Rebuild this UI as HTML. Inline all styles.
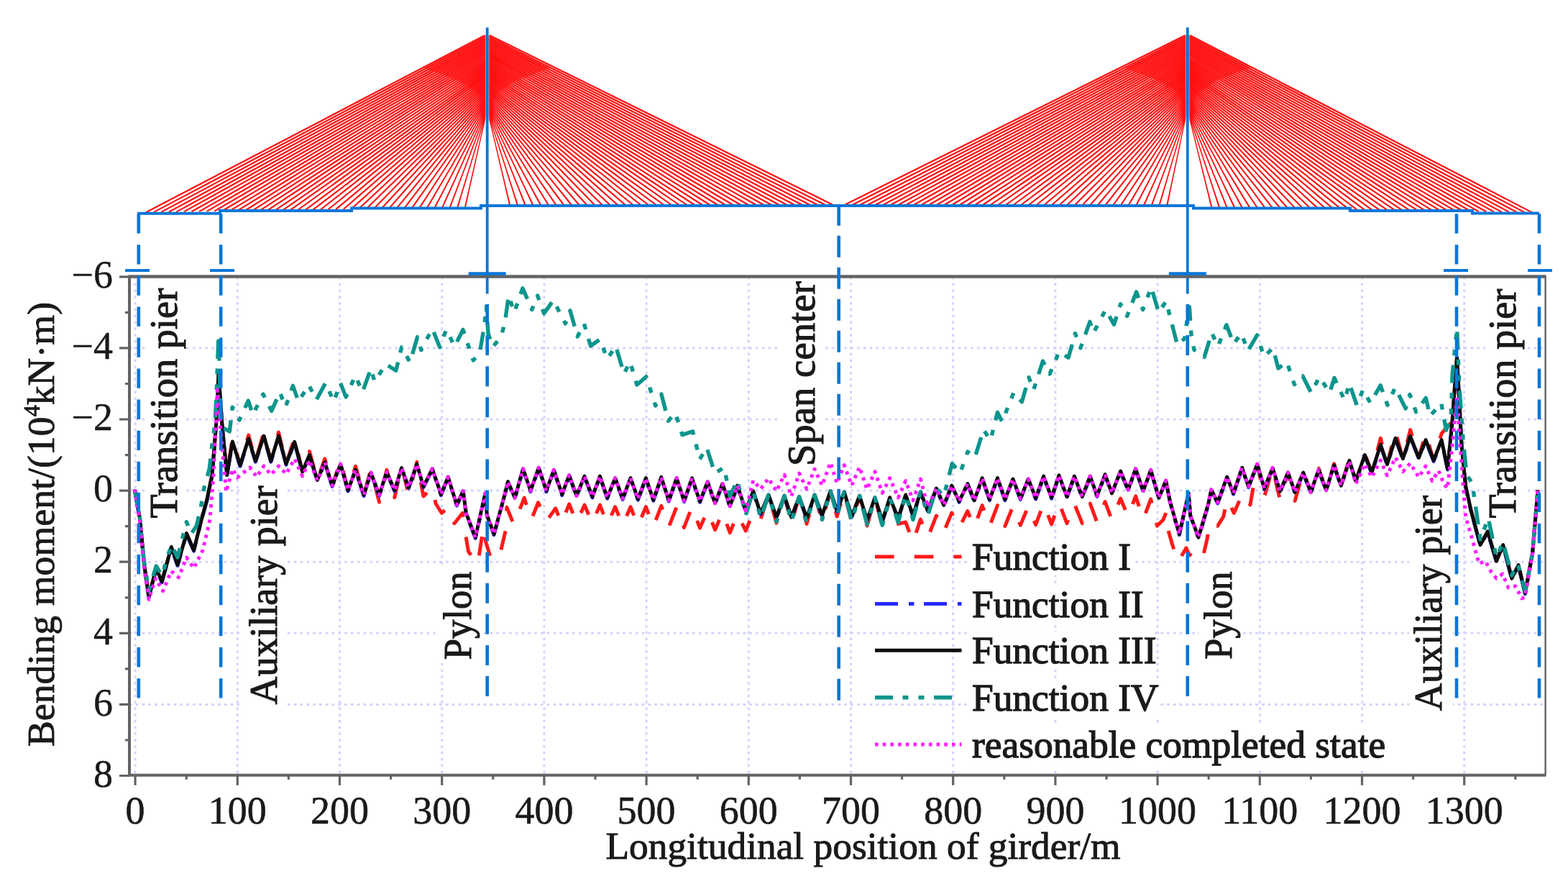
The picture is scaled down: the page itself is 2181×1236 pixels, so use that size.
<!DOCTYPE html><html><head><meta charset="utf-8"><title>Bending moment</title><style>html,body{margin:0;padding:0;background:#fff;}svg{display:block;filter:blur(0.7px);}text{font-family:"Liberation Serif","Times New Roman",serif;fill:#1a1a1a;stroke:#1a1a1a;stroke-width:0.85px;}</style></head><body>
<svg xmlns="http://www.w3.org/2000/svg" width="2181" height="1236" viewBox="0 0 2181 1236">
<rect x="0" y="0" width="2181" height="1236" fill="#fff"/>
<path d="M203.49 296.21L282.13 255.21L360.75 214.18L439.38 173.15L518.00 132.11L596.62 91.08L675.24 50.04L674.16 47.96L595.55 89.02L516.93 130.07L438.32 171.13L359.71 212.19L281.11 253.26L202.51 294.35ZM214.06 296.03L290.94 255.52L367.80 214.98L444.67 174.44L521.53 133.89L598.39 93.35L675.25 52.80L674.15 50.73L597.30 91.29L520.45 131.86L443.61 172.43L366.76 213.00L289.91 253.58L213.08 294.18ZM224.64 295.86L299.75 255.83L374.86 215.78L449.96 175.73L525.05 135.67L600.15 95.61L675.25 55.56L674.15 53.49L599.06 93.57L523.97 133.65L448.89 173.73L373.80 213.81L298.72 253.89L223.65 294.00ZM235.21 295.68L308.57 256.14L381.91 216.58L455.25 177.02L528.58 137.45L601.92 97.88L675.25 58.31L674.15 56.26L600.82 95.84L527.49 135.43L454.17 175.02L380.85 214.61L307.52 254.21L234.22 293.83ZM245.79 295.50L317.38 256.45L388.96 217.38L460.54 178.31L532.11 139.23L603.69 100.15L675.26 61.07L674.14 59.02L602.58 98.12L531.01 137.22L459.45 176.32L387.89 215.42L316.33 254.53L244.78 293.66ZM256.37 295.32L326.20 256.76L396.01 218.18L465.83 179.59L535.64 141.01L605.45 102.42L675.26 63.83L674.14 61.79L604.33 100.40L534.53 139.01L464.73 177.61L394.93 216.23L325.13 254.84L255.35 293.48ZM266.94 295.14L335.01 257.07L403.06 218.98L471.12 180.88L539.17 142.79L607.22 104.69L675.27 66.59L674.13 64.56L606.09 102.67L538.05 140.79L470.01 178.91L401.97 217.03L333.94 255.16L265.92 293.31ZM277.52 294.96L343.82 257.38L410.12 219.78L476.41 182.17L542.70 144.56L608.98 106.95L675.27 69.34L674.13 67.32L607.85 104.95L541.57 142.58L475.29 180.21L409.02 217.84L342.74 255.48L276.48 293.13ZM288.10 294.78L352.64 257.69L417.17 220.58L481.70 183.46L546.22 146.34L610.75 109.22L675.28 72.10L674.12 70.09L609.61 107.23L545.09 144.37L480.57 181.51L416.06 218.65L351.55 255.79L287.05 292.96ZM298.67 294.60L361.45 258.00L424.22 221.37L486.99 184.75L549.75 148.12L612.52 111.49L675.28 74.86L674.12 72.86L611.36 109.51L548.61 146.15L485.85 182.80L423.10 219.46L360.35 256.11L297.61 292.79ZM309.25 294.42L370.27 258.31L431.28 222.17L492.28 186.03L553.28 149.89L614.29 113.75L675.29 77.61L674.11 75.63L613.12 111.78L552.13 147.94L491.13 184.10L430.14 220.26L369.16 256.43L308.18 292.61ZM319.83 294.24L379.08 258.62L438.33 222.97L497.57 187.32L556.81 151.67L616.05 116.02L675.29 80.37L674.11 78.40L614.88 114.06L555.64 149.73L496.41 185.40L437.19 221.07L377.96 256.75L318.74 292.44ZM330.41 294.06L387.90 258.92L445.38 223.77L502.86 188.61L560.34 153.45L617.82 118.28L675.30 83.12L674.10 81.16L616.63 116.34L559.16 151.52L501.69 186.70L444.23 221.88L386.76 257.06L329.31 292.27ZM340.98 293.88L396.72 259.23L452.44 224.56L508.15 189.89L563.87 155.22L619.59 120.55L675.30 85.88L674.10 83.93L618.39 118.62L562.68 153.31L506.97 188.00L451.27 222.69L395.57 257.38L339.87 292.10ZM351.56 293.70L405.53 259.54L459.49 225.36L513.45 191.18L567.40 157.00L621.36 122.81L675.31 88.63L674.09 86.70L620.14 120.90L566.20 155.10L512.25 189.30L458.31 223.50L404.37 257.70L350.44 291.92ZM362.14 293.52L414.35 259.85L466.54 226.16L518.74 192.47L570.93 158.77L623.13 125.08L675.32 91.38L674.08 89.47L621.90 123.18L569.72 156.89L517.53 190.60L465.35 224.31L413.17 258.02L361.00 291.75ZM372.72 293.33L423.17 260.15L473.60 226.95L524.03 193.75L574.46 160.55L624.89 127.34L675.32 94.14L674.08 92.24L623.65 125.46L573.23 158.68L522.81 191.90L472.39 225.12L421.97 258.34L371.57 291.58ZM383.30 293.15L431.98 260.46L480.65 227.75L529.32 195.04L577.99 162.32L626.66 129.61L675.33 96.89L674.07 95.01L625.41 127.74L576.75 160.47L528.09 193.20L479.43 225.93L430.77 258.66L382.13 291.41ZM393.88 292.97L440.80 260.76L487.71 228.54L534.62 196.32L581.53 164.09L628.43 131.87L675.34 99.64L674.06 97.79L627.16 130.02L580.27 162.26L533.37 194.50L486.47 226.74L439.58 258.98L392.69 291.24ZM404.46 292.79L449.62 261.07L494.77 229.34L539.91 197.60L585.06 165.87L630.20 134.13L675.34 102.39L674.06 100.56L628.92 132.31L583.78 164.05L538.65 195.80L493.51 227.55L448.38 259.30L403.25 291.07ZM415.04 292.60L458.44 261.37L501.82 230.13L545.21 198.88L588.59 167.64L631.97 136.39L675.35 105.14L674.05 103.33L630.67 134.59L587.30 165.85L543.92 197.10L500.55 228.36L457.18 259.63L413.81 290.90ZM425.62 292.42L467.26 261.68L508.88 230.92L550.50 200.17L592.12 169.41L633.74 138.65L675.36 107.89L674.04 106.11L632.43 136.87L590.81 167.64L549.20 198.41L507.59 229.18L465.98 259.95L424.38 290.73ZM436.21 292.23L476.07 261.98L515.94 231.71L555.79 201.45L595.65 171.18L635.51 140.91L675.37 110.64L674.03 108.88L634.18 139.16L594.33 169.44L554.48 199.71L514.63 229.99L474.78 260.27L434.94 290.56ZM446.79 292.05L484.89 262.28L522.99 232.51L561.09 202.73L599.19 172.95L637.28 143.17L675.38 113.39L674.02 111.66L635.93 141.44L597.84 171.23L559.75 201.02L521.66 230.81L483.58 260.60L445.50 290.39ZM457.37 291.86L493.71 262.58L530.05 233.29L566.38 204.01L602.72 174.72L639.05 145.43L675.38 116.14L674.02 114.44L637.69 143.73L601.36 173.03L565.03 202.33L528.70 231.62L492.38 260.92L456.06 290.23ZM467.96 291.68L502.54 262.88L537.11 234.08L571.68 205.28L606.25 176.48L640.82 147.68L675.39 118.88L674.01 117.22L639.44 146.02L604.87 174.83L570.31 203.63L535.74 232.44L501.17 261.25L466.61 290.06ZM478.54 291.49L511.36 263.18L544.17 234.87L576.98 206.56L609.79 178.25L642.59 149.94L675.40 121.62L674.00 120.00L641.19 148.31L608.39 176.63L575.58 204.94L542.78 233.26L509.97 261.58L477.17 289.90ZM489.13 291.30L520.18 263.48L551.23 235.66L582.27 207.83L613.32 180.01L644.37 152.19L675.41 124.36L673.99 122.78L642.94 150.60L611.90 178.43L580.86 206.25L549.81 234.08L518.77 261.91L487.73 289.73ZM499.72 291.11L529.00 263.77L558.29 236.44L587.57 209.11L616.85 181.77L646.14 154.44L675.42 127.10L673.98 125.56L644.70 152.90L615.41 180.23L586.13 207.57L556.85 234.90L527.57 262.24L498.28 289.57ZM510.30 290.91L537.82 264.07L565.34 237.22L592.87 210.38L620.39 183.53L647.91 156.69L675.43 129.84L673.97 128.35L646.45 155.19L618.93 182.04L591.41 208.88L563.88 235.72L536.36 262.57L508.84 289.41ZM520.89 290.72L546.65 264.36L572.40 238.00L598.16 211.65L623.92 185.29L649.68 158.93L675.44 132.58L673.96 131.14L648.20 157.49L622.44 183.84L596.68 210.20L570.92 236.55L545.16 262.90L519.39 289.25ZM531.48 290.52L555.47 264.65L579.47 238.78L603.46 212.91L627.45 187.04L651.45 161.18L675.45 135.31L673.95 133.93L649.96 159.79L625.96 185.65L601.95 211.52L577.95 237.38L553.95 263.24L529.94 289.10ZM542.08 290.33L564.30 264.94L586.53 239.56L608.76 214.18L630.99 188.80L653.22 163.42L675.45 138.04L673.95 136.72L651.71 162.09L629.47 187.47L607.23 212.84L584.99 238.21L562.75 263.58L540.50 288.94ZM552.67 290.12L573.12 265.22L593.59 240.33L614.05 215.44L634.52 190.55L654.99 165.66L675.46 140.77L673.94 139.52L653.46 164.40L632.98 189.28L612.50 214.16L592.02 239.04L571.54 263.92L551.05 288.79ZM563.26 289.92L581.95 265.50L600.65 241.10L619.35 216.69L638.05 192.29L656.76 167.89L675.46 143.49L673.94 142.32L655.22 166.71L636.50 191.10L617.78 215.49L599.06 239.88L580.34 264.27L561.60 288.64ZM573.86 289.71L590.77 265.78L607.70 241.86L624.64 217.95L641.58 194.03L658.52 170.12L675.47 146.21L673.93 145.12L656.98 169.02L640.02 192.92L623.06 216.82L606.10 240.72L589.13 264.62L572.14 288.50ZM584.45 289.50L599.59 266.05L614.76 242.62L629.94 219.20L645.11 195.77L660.29 172.35L675.47 148.93L673.93 147.93L658.74 171.34L643.54 194.75L628.34 218.16L613.13 241.57L597.93 264.97L582.69 288.36ZM595.05 289.28L608.42 266.32L621.82 243.38L635.23 220.44L648.64 197.51L662.05 174.57L675.46 151.64L673.94 150.74L660.50 173.66L647.06 196.58L633.62 219.50L620.17 242.41L606.72 265.33L593.24 288.22ZM605.65 289.06L617.24 266.58L628.87 244.13L640.51 221.68L652.16 199.24L663.81 176.79L675.45 154.34L673.95 153.56L662.27 175.99L650.58 198.42L638.90 220.84L627.21 243.27L615.52 265.69L603.78 288.09ZM616.24 288.83L626.06 266.84L635.92 244.88L645.80 222.92L655.68 200.96L665.56 179.00L675.44 157.05L673.96 156.38L664.04 178.32L654.12 200.26L644.19 222.19L634.26 244.13L624.32 266.06L614.33 287.97ZM626.84 288.59L634.87 267.09L642.97 245.62L651.07 224.15L659.19 202.68L667.30 181.22L675.42 159.75L673.98 159.20L665.82 180.65L657.65 202.10L649.48 223.55L641.31 244.99L633.12 266.43L624.88 287.85ZM637.43 288.35L643.68 267.34L650.01 246.36L656.35 225.38L662.69 204.40L669.04 183.42L675.39 162.45L674.01 162.03L667.60 182.99L661.20 203.95L654.78 224.90L648.36 245.86L641.93 266.81L635.42 287.74ZM648.02 288.10L652.49 267.59L657.04 247.09L661.61 226.61L666.19 206.12L670.77 185.63L675.35 165.15L674.05 164.85L669.40 185.32L664.75 205.79L660.09 226.26L655.42 246.73L650.74 267.19L645.98 287.64ZM1158.46 283.56L1078.94 244.26L999.40 204.99L919.86 165.73L840.31 126.46L760.77 87.20L681.22 47.94L680.18 50.06L759.73 89.30L839.29 128.54L918.84 167.77L998.40 207.01L1077.96 246.24L1157.54 285.44ZM1147.78 283.56L1070.03 244.72L992.28 205.91L914.51 167.11L836.75 128.31L758.99 89.51L681.23 50.71L680.17 52.82L757.95 91.60L835.72 130.38L913.50 169.15L991.27 207.93L1069.05 246.70L1146.84 285.44ZM1137.09 283.56L1061.13 245.19L985.15 206.84L909.17 168.49L833.19 130.15L757.21 91.81L681.23 53.47L680.17 55.58L756.16 93.90L832.15 132.21L908.15 170.53L984.14 208.84L1060.14 247.15L1136.15 285.44ZM1126.41 283.56L1052.22 245.65L978.03 207.76L903.83 169.88L829.63 132.00L755.43 94.12L681.23 56.24L680.17 58.33L754.37 96.19L828.59 134.05L902.80 171.91L977.01 209.76L1051.22 247.61L1125.45 285.44ZM1115.72 283.57L1043.32 246.11L970.91 208.69L898.49 171.26L826.07 133.84L753.66 96.42L681.24 59.00L680.16 61.09L752.59 98.49L825.02 135.89L897.45 173.29L969.88 210.68L1042.31 248.07L1114.76 285.43ZM1105.03 283.57L1034.42 246.58L963.78 209.61L893.15 172.65L822.52 135.69L751.88 98.73L681.24 61.77L680.16 63.85L750.80 100.79L821.45 137.73L892.10 174.66L962.75 211.60L1033.40 248.53L1104.06 285.43ZM1094.35 283.57L1025.51 247.04L956.66 210.53L887.81 174.03L818.96 137.53L750.10 101.03L681.25 64.54L680.15 66.61L749.02 103.09L817.88 139.56L886.75 176.04L955.61 212.51L1024.48 248.98L1093.37 285.43ZM1083.66 283.57L1016.61 247.50L949.54 211.46L882.47 175.42L815.40 139.38L748.33 103.34L681.25 67.30L680.15 69.36L747.23 105.38L814.31 141.40L881.40 177.42L948.48 213.43L1015.57 249.44L1082.67 285.43ZM1072.98 283.58L1007.71 247.97L942.42 212.38L877.13 176.80L811.84 141.22L746.55 105.65L681.26 70.07L680.14 72.12L745.44 107.68L810.74 143.24L876.05 178.79L941.35 214.35L1006.66 249.90L1071.97 285.42ZM1062.29 283.58L998.80 248.43L935.30 213.31L871.79 178.19L808.28 143.07L744.77 107.95L681.26 72.84L680.14 74.88L743.66 109.97L807.18 145.07L870.70 180.17L934.22 215.26L997.74 250.35L1061.28 285.42ZM1051.61 283.58L989.90 248.90L928.18 214.23L866.45 179.57L804.72 144.92L743.00 110.26L681.27 75.61L680.13 77.63L741.87 112.27L803.61 146.91L865.34 181.54L927.08 216.18L988.83 250.81L1050.58 285.42ZM1040.92 283.59L981.00 249.36L921.05 215.16L861.11 180.96L801.17 146.76L741.22 112.57L681.27 78.37L680.13 80.39L740.08 114.57L800.04 148.74L859.99 182.92L919.95 217.09L979.91 251.26L1039.88 285.41ZM1030.24 283.59L972.09 249.83L913.93 216.09L855.77 182.35L797.61 148.61L739.44 114.88L681.28 81.14L680.12 83.14L738.29 116.86L796.47 150.58L854.64 184.30L912.82 218.01L971.00 251.72L1029.19 285.41ZM1019.56 283.60L963.19 250.29L906.81 217.01L850.43 183.73L794.05 150.46L737.67 117.18L681.29 83.91L680.11 85.90L736.51 119.16L792.90 152.41L849.29 185.67L905.69 218.92L962.08 252.18L1018.49 285.40ZM1008.87 283.60L954.29 250.76L899.69 217.94L845.09 185.12L790.49 152.31L735.89 119.49L681.29 86.68L680.11 88.65L734.72 121.45L789.33 154.25L843.94 187.04L898.55 219.84L953.17 252.63L1007.79 285.40ZM998.19 283.60L945.39 251.23L892.57 218.87L839.76 186.51L786.94 154.16L734.12 121.80L681.30 89.45L680.10 91.41L732.93 123.75L785.76 156.08L838.59 188.42L891.42 220.75L944.25 253.08L997.09 285.40ZM987.51 283.61L936.49 251.69L885.45 219.79L834.42 187.90L783.38 156.00L732.34 124.11L681.31 92.22L680.09 94.16L731.14 126.04L782.19 157.92L833.23 189.79L884.28 221.67L935.33 253.54L986.40 285.39ZM976.83 283.61L927.59 252.16L878.33 220.72L829.08 189.29L779.83 157.85L730.57 126.42L681.31 94.99L680.09 96.91L729.35 128.33L778.62 159.75L827.88 191.17L877.15 222.58L926.42 253.99L975.70 285.39ZM966.15 283.62L918.69 252.63L871.22 221.65L823.74 190.68L776.27 159.70L728.80 128.73L681.32 97.76L680.08 99.67L727.56 130.62L775.05 161.58L822.53 192.54L870.01 223.49L917.50 254.44L965.00 285.38ZM955.46 283.63L909.79 253.09L864.10 222.58L818.41 192.07L772.71 161.56L727.02 131.04L681.33 100.53L680.07 102.42L725.77 132.92L771.47 163.41L817.18 193.91L862.88 224.40L908.58 254.90L954.30 285.37ZM944.78 283.63L900.89 253.56L856.98 223.51L813.07 193.46L769.16 163.41L725.25 133.36L681.34 103.31L680.06 105.17L723.98 135.21L767.90 165.24L811.82 195.28L855.74 225.32L899.66 255.35L943.60 285.37ZM934.10 283.64L891.99 254.03L849.86 224.44L807.73 194.85L765.60 165.26L723.47 135.67L681.34 106.08L680.06 107.92L722.19 137.50L764.33 167.07L806.47 196.65L848.61 226.23L890.75 255.80L932.90 285.36ZM923.42 283.65L883.09 254.50L842.74 225.37L802.40 196.24L762.05 167.11L721.70 137.98L681.35 108.86L680.05 110.67L720.40 139.79L760.76 168.90L801.11 198.02L841.47 227.14L881.83 256.25L922.20 285.35ZM912.75 283.66L874.19 254.97L835.63 226.30L797.06 197.64L758.50 168.97L719.93 140.30L681.36 111.63L680.04 113.41L718.61 142.07L757.18 170.73L795.76 199.39L834.33 228.04L872.91 256.70L911.49 285.34ZM902.07 283.67L865.29 255.45L828.51 227.24L791.73 199.03L754.94 170.82L718.16 142.62L681.37 114.41L680.03 116.16L716.82 144.36L753.61 172.56L790.40 200.76L827.20 228.95L863.99 257.15L900.79 285.33ZM891.39 283.68L856.40 255.92L821.39 228.17L786.39 200.43L751.39 172.68L716.38 144.93L681.38 117.19L680.02 118.91L715.03 146.64L750.04 174.38L785.05 202.12L820.06 229.86L855.07 257.60L890.09 285.32ZM880.71 283.69L847.50 256.40L814.28 229.11L781.06 201.82L747.83 174.54L714.61 147.25L681.39 119.97L680.01 121.65L713.24 148.93L746.46 176.21L779.69 203.49L812.92 230.76L846.15 258.04L879.38 285.31ZM870.04 283.70L838.60 256.87L807.16 230.05L775.72 203.22L744.28 176.40L712.84 149.57L681.40 122.75L680.00 124.39L711.44 151.21L742.89 178.03L774.33 204.85L805.78 231.67L837.23 258.49L868.68 285.30ZM859.36 283.72L829.71 257.35L800.05 230.99L770.39 204.62L740.73 178.26L711.07 151.90L681.41 125.54L679.99 127.13L709.65 153.49L739.32 179.85L768.98 206.21L798.64 232.57L828.30 258.93L857.97 285.28ZM848.69 283.73L820.81 257.83L792.93 231.93L765.06 206.03L737.18 180.12L709.30 154.22L681.42 128.32L679.98 129.87L707.86 155.77L735.74 181.67L763.62 207.57L791.50 233.47L819.38 259.37L847.26 285.27ZM838.02 283.75L811.92 258.31L785.82 232.87L759.72 207.43L733.62 181.99L707.53 156.55L681.43 131.11L679.97 132.60L706.07 158.05L732.17 183.49L758.26 208.93L784.36 234.37L810.46 259.81L836.55 285.25ZM827.35 283.77L803.03 258.79L778.71 233.82L754.39 208.84L730.07 183.86L705.76 158.88L681.44 133.90L679.96 135.34L704.28 160.32L728.59 185.30L752.91 210.28L777.22 235.26L801.53 260.25L825.84 285.23ZM816.68 283.79L794.13 259.28L771.59 234.76L749.06 210.25L726.52 185.73L703.98 161.21L681.45 136.69L679.95 138.07L702.49 162.59L725.02 187.11L747.55 211.63L770.08 236.16L792.61 260.68L815.13 285.21ZM806.01 283.81L785.24 259.77L764.48 235.72L743.72 211.66L722.97 187.60L702.21 163.55L681.45 139.49L679.95 140.79L700.69 164.86L721.44 188.92L742.19 212.98L762.94 237.05L783.68 261.11L804.42 285.19ZM795.34 283.84L776.35 260.26L757.37 236.67L738.39 213.08L719.41 189.48L700.44 165.89L681.46 142.29L679.94 143.52L698.91 167.12L717.87 190.72L736.83 214.33L755.80 237.93L774.76 261.54L793.71 285.16ZM784.68 283.87L767.46 260.76L750.25 237.63L733.05 214.50L715.86 191.37L698.66 168.23L681.46 145.10L679.94 146.23L697.12 169.38L714.30 192.52L731.48 215.67L748.66 238.81L765.83 261.96L782.99 285.13ZM774.01 283.91L758.56 261.26L743.14 238.59L727.72 215.92L712.30 193.25L696.88 170.58L681.47 147.91L679.93 148.95L695.33 171.63L710.73 194.32L726.12 217.01L741.52 239.69L756.91 262.38L772.27 285.09ZM763.35 283.95L749.67 261.77L736.02 239.56L722.38 217.35L708.74 195.14L695.10 172.93L681.46 150.72L679.94 151.66L693.55 173.88L707.16 196.11L720.77 218.34L734.38 240.57L747.99 262.80L761.56 285.05ZM752.68 284.00L740.77 262.28L728.90 240.53L717.04 218.79L705.18 197.04L693.32 175.29L681.46 153.54L679.94 154.37L691.77 176.13L703.60 197.90L715.42 219.67L727.25 241.43L739.06 263.21L750.84 285.00ZM742.02 284.05L731.88 262.79L721.78 241.51L711.69 220.23L701.61 198.94L691.53 177.65L681.45 156.36L679.95 157.07L690.00 178.37L700.04 199.68L710.08 220.99L720.12 242.30L730.14 263.61L740.12 284.95ZM731.36 284.11L722.97 263.32L714.65 242.50L706.34 221.67L698.03 200.84L689.73 180.02L681.43 159.19L679.97 159.76L688.23 180.61L696.49 201.46L704.74 222.31L712.99 243.16L721.23 264.01L729.41 284.89ZM720.69 284.18L714.07 263.84L707.52 243.48L700.98 223.12L694.45 202.75L687.92 182.38L681.40 162.02L680.00 162.46L686.48 182.85L692.94 203.23L699.41 223.62L705.87 244.01L712.32 264.40L718.69 284.82ZM710.02 284.26L705.16 264.38L700.38 244.47L695.61 224.57L690.86 204.66L686.11 184.75L681.36 164.84L680.04 165.16L684.73 185.08L689.41 205.00L694.09 224.93L698.76 244.86L703.41 264.79L707.98 284.74ZM1175.97 285.44L1254.87 246.24L1333.77 207.01L1412.66 167.77L1491.55 128.54L1570.44 89.30L1649.33 50.06L1648.27 47.94L1569.40 87.20L1490.52 126.46L1411.64 165.73L1332.77 204.99L1253.89 244.26L1175.03 283.56ZM1186.64 285.44L1263.77 246.70L1340.88 207.92L1418.00 169.15L1495.11 130.37L1572.22 91.59L1649.33 52.81L1648.27 50.71L1571.17 89.51L1494.07 128.31L1416.97 167.11L1339.87 205.92L1262.78 244.73L1185.69 283.56ZM1197.31 285.44L1272.66 247.15L1348.00 208.84L1423.33 170.53L1498.67 132.21L1574.00 93.89L1649.33 55.57L1648.27 53.47L1572.94 91.81L1497.62 130.15L1422.30 168.50L1346.98 206.84L1271.66 245.19L1196.36 283.56ZM1207.98 285.43L1281.55 247.61L1355.11 209.76L1428.67 171.91L1502.23 134.05L1575.78 96.19L1649.34 58.33L1648.26 56.24L1574.72 94.12L1501.17 132.00L1427.63 169.88L1354.09 207.76L1280.55 245.65L1207.02 283.57ZM1218.65 285.43L1290.45 248.07L1362.23 210.68L1434.01 173.28L1505.79 135.89L1577.57 98.49L1649.34 61.09L1648.26 59.01L1576.49 96.43L1504.72 133.84L1432.96 171.27L1361.19 208.69L1289.43 246.12L1217.68 283.57ZM1229.32 285.43L1299.34 248.52L1369.35 211.59L1439.35 174.66L1509.35 137.72L1579.35 100.78L1649.35 63.85L1648.25 61.77L1578.26 98.73L1508.27 135.69L1438.29 172.65L1368.30 209.61L1298.31 246.58L1228.34 283.57ZM1240.00 285.43L1308.23 248.98L1376.46 212.51L1444.69 176.04L1512.91 139.56L1581.13 103.08L1649.35 66.60L1648.25 64.54L1580.04 101.04L1511.83 137.54L1443.61 174.04L1375.41 210.54L1307.20 247.04L1239.00 283.57ZM1250.67 285.42L1317.13 249.44L1383.58 213.43L1450.02 177.41L1516.47 141.40L1582.91 105.38L1649.36 69.36L1648.24 67.31L1581.81 103.34L1515.38 139.38L1448.94 175.42L1382.51 211.46L1316.08 247.51L1249.67 283.58ZM1261.34 285.42L1326.02 249.89L1390.69 214.34L1455.36 178.79L1520.03 143.23L1584.70 107.68L1649.36 72.12L1648.24 70.07L1583.58 105.65L1518.93 141.23L1454.27 176.81L1389.62 212.39L1324.97 247.97L1260.33 283.58ZM1272.01 285.42L1334.92 250.35L1397.81 215.26L1460.70 180.17L1523.59 145.07L1586.48 109.97L1649.37 74.87L1648.23 72.84L1585.35 107.96L1522.48 143.07L1459.60 178.19L1396.72 213.31L1333.85 248.44L1270.99 283.58ZM1282.68 285.41L1343.81 250.81L1404.93 216.18L1466.04 181.54L1527.15 146.90L1588.26 112.27L1649.37 77.63L1648.23 75.61L1587.13 110.26L1526.03 144.92L1464.93 179.58L1403.83 214.24L1342.73 248.90L1281.65 283.59ZM1293.36 285.41L1352.71 251.26L1412.04 217.09L1471.38 182.92L1530.71 148.74L1590.05 114.56L1649.38 80.38L1648.22 78.38L1588.90 112.57L1529.58 146.77L1470.25 180.96L1410.93 215.16L1351.61 249.37L1292.31 283.59ZM1304.03 285.41L1361.60 251.72L1419.16 218.01L1476.72 184.29L1534.27 150.58L1591.83 116.86L1649.38 83.14L1648.22 81.15L1590.67 114.88L1533.13 148.62L1475.58 182.35L1418.04 216.09L1360.50 249.83L1302.97 283.59ZM1314.70 285.40L1370.50 252.17L1426.28 218.92L1482.06 185.67L1537.84 152.41L1593.61 119.15L1649.39 85.89L1648.21 83.92L1592.44 117.19L1536.67 150.46L1480.91 183.74L1425.14 217.02L1369.38 250.30L1313.63 283.60ZM1325.38 285.40L1379.39 252.63L1433.40 219.84L1487.40 187.04L1541.40 154.24L1595.40 121.45L1649.40 88.65L1648.20 86.68L1594.21 119.50L1540.22 152.31L1486.24 185.13L1432.25 217.94L1378.26 250.76L1324.29 283.60ZM1336.05 285.39L1388.29 253.08L1440.52 220.75L1492.74 188.41L1544.96 156.08L1597.18 123.74L1649.40 91.40L1648.20 89.45L1595.98 121.81L1543.77 154.16L1491.56 186.51L1439.35 218.87L1387.14 251.23L1334.95 283.61ZM1346.73 285.39L1397.19 253.53L1447.63 221.66L1498.08 189.79L1548.52 157.91L1598.97 126.03L1649.41 94.16L1648.19 92.23L1597.76 124.12L1547.32 156.01L1496.89 187.90L1446.46 219.80L1396.02 251.70L1345.61 283.61ZM1357.40 285.38L1406.08 253.99L1454.75 222.58L1503.42 191.16L1552.09 159.74L1600.75 128.33L1649.42 96.91L1648.18 95.00L1599.53 126.43L1550.87 157.86L1502.21 189.29L1453.56 220.73L1404.91 252.16L1356.26 283.62ZM1368.08 285.38L1414.98 254.44L1461.87 223.49L1508.76 192.53L1555.65 161.58L1602.54 130.62L1649.42 99.66L1648.18 97.77L1601.30 128.74L1554.42 159.71L1507.54 190.68L1460.66 221.65L1413.79 252.63L1366.92 283.62ZM1378.75 285.37L1423.88 254.89L1468.99 224.40L1514.10 193.90L1559.21 163.41L1604.32 132.91L1649.43 102.41L1648.17 100.54L1603.07 131.05L1557.96 161.56L1512.86 192.07L1467.76 222.58L1422.67 253.10L1377.58 283.63ZM1389.43 285.36L1432.78 255.34L1476.11 225.31L1519.44 195.27L1562.78 165.24L1606.11 135.20L1649.44 105.16L1648.16 103.31L1604.84 133.36L1561.51 163.41L1518.19 193.46L1474.87 223.51L1431.55 253.57L1388.24 283.64ZM1400.11 285.36L1441.68 255.79L1483.23 226.22L1524.79 196.64L1566.34 167.07L1607.90 137.49L1649.45 107.91L1648.15 106.09L1606.60 135.68L1565.06 165.27L1523.51 194.86L1481.97 224.45L1440.42 254.04L1398.89 283.64ZM1410.79 285.35L1450.57 256.24L1490.35 227.13L1530.13 198.01L1569.91 168.90L1609.68 139.78L1649.46 110.66L1648.14 108.86L1608.37 137.99L1568.60 167.12L1528.84 196.25L1489.07 225.38L1449.30 254.51L1409.55 283.65ZM1421.47 285.34L1459.47 256.69L1497.47 228.04L1535.47 199.38L1573.47 170.72L1611.47 142.07L1649.47 113.41L1648.13 111.64L1610.14 140.31L1572.15 168.97L1534.16 197.64L1496.17 226.31L1458.18 254.98L1420.20 283.66ZM1432.15 285.33L1468.37 257.14L1504.60 228.95L1540.82 200.75L1577.04 172.55L1613.26 144.35L1649.48 116.15L1648.12 114.42L1611.91 142.62L1575.70 170.83L1539.48 199.04L1503.27 227.24L1467.06 255.45L1430.85 283.67ZM1442.83 285.32L1477.27 257.59L1511.72 229.85L1546.16 202.11L1580.60 174.38L1615.04 146.64L1649.48 118.90L1648.12 117.20L1613.68 144.94L1579.24 172.69L1544.81 200.43L1510.37 228.18L1475.94 255.93L1441.51 283.68ZM1453.51 285.31L1486.18 258.03L1518.84 230.76L1551.50 203.48L1584.17 176.20L1616.83 148.92L1649.49 121.64L1648.11 119.98L1615.45 147.26L1582.79 174.55L1550.13 201.83L1517.47 229.12L1484.81 256.40L1452.16 283.69ZM1464.19 285.29L1495.08 258.48L1525.96 231.66L1556.85 204.84L1587.73 178.02L1618.62 151.20L1649.50 124.38L1648.10 122.76L1617.21 149.58L1586.33 176.41L1555.45 203.23L1524.57 230.05L1493.69 256.88L1462.81 283.71ZM1474.87 285.28L1503.98 258.92L1533.09 232.56L1562.19 206.20L1591.30 179.84L1620.41 153.48L1649.51 127.12L1648.09 125.55L1618.98 151.91L1589.88 178.27L1560.77 204.63L1531.67 230.99L1502.56 257.36L1473.46 283.72ZM1485.56 285.26L1512.88 259.36L1540.21 233.46L1567.54 207.56L1594.87 181.66L1622.20 155.76L1649.52 129.86L1648.08 128.33L1620.75 154.23L1593.42 180.13L1566.09 206.03L1538.77 231.94L1511.44 257.84L1484.11 283.74ZM1496.24 285.24L1521.79 259.80L1547.34 234.36L1572.88 208.92L1598.43 183.48L1623.98 158.03L1649.53 132.59L1648.07 131.12L1622.52 156.56L1596.97 182.00L1571.42 207.44L1545.86 232.88L1520.31 258.32L1494.76 283.76ZM1506.93 285.22L1530.69 260.24L1554.46 235.25L1578.23 210.27L1602.00 185.29L1625.77 160.31L1649.54 135.32L1648.06 133.91L1624.28 158.89L1600.51 183.87L1576.74 208.85L1552.96 233.83L1529.19 258.80L1505.41 283.78ZM1517.61 285.20L1539.60 260.67L1561.59 236.14L1583.58 211.62L1605.57 187.10L1627.56 162.58L1649.55 138.05L1648.05 136.71L1626.05 161.23L1604.06 185.74L1582.06 210.26L1560.06 234.78L1538.06 259.29L1516.05 283.80ZM1528.30 285.18L1548.50 261.10L1568.71 237.03L1588.92 212.97L1609.13 188.91L1629.34 164.84L1649.56 140.78L1648.04 139.51L1627.82 163.56L1607.60 187.62L1587.38 211.67L1567.16 235.73L1546.93 259.78L1526.70 283.82ZM1538.99 285.15L1557.41 261.53L1575.83 237.92L1594.26 214.31L1612.70 190.71L1631.13 167.10L1649.56 143.50L1648.04 142.31L1629.59 165.90L1611.15 189.50L1592.70 213.09L1574.25 236.68L1555.80 260.28L1537.34 283.85ZM1549.69 285.11L1566.31 261.95L1582.96 238.80L1599.61 215.65L1616.26 192.51L1632.91 169.36L1649.57 146.22L1648.03 145.12L1631.37 168.25L1614.70 191.38L1598.03 214.51L1581.35 237.64L1564.68 260.77L1547.98 283.89ZM1560.38 285.08L1575.22 262.37L1590.08 239.68L1604.95 216.99L1619.82 194.30L1634.69 171.62L1649.57 148.93L1648.03 147.93L1633.14 170.60L1618.25 193.27L1603.35 215.94L1588.45 238.61L1573.55 261.28L1558.62 283.92ZM1571.07 285.03L1584.12 262.78L1597.20 240.55L1610.29 218.32L1623.38 196.09L1636.47 173.87L1649.56 151.64L1648.04 150.74L1634.92 172.95L1621.80 195.16L1608.68 217.37L1595.56 239.58L1582.43 261.78L1569.26 283.97ZM1581.76 284.98L1593.02 263.19L1604.32 241.42L1615.62 219.65L1626.93 197.88L1638.24 176.11L1649.55 154.35L1648.05 153.56L1636.70 175.31L1625.36 197.06L1614.01 218.81L1602.66 240.55L1591.30 262.29L1579.90 284.02ZM1592.46 284.93L1601.92 263.59L1611.43 242.28L1620.95 220.97L1630.48 199.66L1640.01 178.35L1649.54 157.05L1648.06 156.38L1638.49 177.67L1628.92 198.96L1619.35 220.25L1609.77 241.53L1600.18 262.81L1590.54 284.07ZM1603.15 284.87L1610.81 263.99L1618.54 243.13L1626.28 222.28L1634.02 201.44L1641.77 180.59L1649.52 159.74L1648.08 159.21L1640.29 180.04L1632.49 200.87L1624.69 221.69L1616.88 242.52L1609.06 263.34L1601.18 284.13ZM1613.84 284.80L1619.70 264.38L1625.64 243.99L1631.60 223.60L1637.56 203.21L1643.52 182.82L1649.49 162.44L1648.11 162.04L1642.09 182.41L1636.07 202.77L1630.04 223.14L1624.00 243.50L1617.95 263.87L1611.83 284.20ZM1624.53 284.72L1628.59 264.77L1632.74 244.84L1636.91 224.91L1641.08 204.98L1645.26 185.06L1649.44 165.14L1648.16 164.86L1643.91 184.77L1639.65 204.68L1635.39 224.59L1631.13 244.50L1626.85 264.40L1622.47 284.28ZM2131.48 294.40L2052.14 253.30L1972.78 212.23L1893.42 171.16L1814.06 130.09L1734.70 89.02L1655.34 47.96L1654.26 50.04L1733.63 91.09L1813.00 132.13L1892.38 173.18L1971.75 214.22L2051.13 255.26L2130.52 296.27ZM2120.87 294.23L2043.30 253.62L1965.71 213.03L1888.12 172.45L1810.53 131.87L1732.94 91.30L1655.34 50.72L1654.26 52.80L1731.86 93.36L1809.46 133.91L1887.07 174.47L1964.67 215.02L2042.28 255.57L2119.90 296.09ZM2110.27 294.05L2034.46 253.93L1958.64 213.84L1882.82 173.75L1807.00 133.66L1731.17 93.57L1655.35 53.49L1654.25 55.56L1730.09 95.63L1805.92 135.69L1881.76 175.76L1957.59 215.82L2033.43 255.88L2109.29 295.91ZM2099.66 293.88L2025.62 254.25L1951.57 214.64L1877.52 175.04L1803.46 135.45L1729.41 95.85L1655.35 56.25L1654.25 58.32L1728.31 97.89L1802.38 137.47L1876.45 177.05L1950.52 216.62L2024.59 256.19L2098.67 295.73ZM2089.05 293.70L2016.78 254.57L1944.50 215.45L1872.22 176.34L1799.93 137.23L1727.64 98.13L1655.36 59.02L1654.24 61.08L1726.54 100.16L1798.84 139.25L1871.14 178.33L1943.44 217.42L2015.74 256.50L2088.05 295.55ZM2078.44 293.53L2007.94 254.88L1937.43 216.26L1866.91 177.64L1796.40 139.02L1725.88 100.40L1655.36 61.79L1654.24 63.83L1724.77 102.43L1795.30 141.03L1865.83 179.62L1936.36 218.22L2006.89 256.81L2077.44 295.37ZM2067.84 293.36L1999.11 255.20L1930.36 217.06L1861.61 178.93L1792.86 140.81L1724.11 102.68L1655.36 64.55L1654.24 66.59L1723.00 104.70L1791.76 142.81L1860.52 180.91L1929.28 219.02L1998.04 257.12L2066.82 295.19ZM2057.23 293.18L1990.27 255.52L1923.29 217.87L1856.31 180.23L1789.33 142.59L1722.35 104.96L1655.37 67.32L1654.23 69.35L1721.22 106.97L1788.21 144.58L1855.21 182.20L1922.20 219.82L1989.19 257.43L2056.20 295.01ZM2046.62 293.01L1981.43 255.83L1916.22 218.68L1851.01 181.53L1785.80 144.38L1720.59 107.23L1655.37 70.09L1654.23 72.10L1719.45 109.23L1784.67 146.36L1849.89 183.49L1915.12 220.61L1980.35 257.74L2045.59 294.83ZM2036.02 292.84L1972.59 256.15L1909.15 219.49L1845.71 182.83L1782.27 146.17L1718.82 109.51L1655.38 72.85L1654.22 74.86L1717.67 111.50L1781.13 148.14L1844.58 184.78L1908.04 221.41L1971.50 258.04L2034.97 294.65ZM2025.41 292.66L1963.75 256.47L1902.08 220.29L1840.41 184.12L1778.73 147.96L1717.06 111.79L1655.38 75.62L1654.22 77.62L1715.90 113.77L1777.59 149.92L1839.27 186.06L1900.96 222.21L1962.65 258.35L2024.35 294.47ZM2014.81 292.49L1954.92 256.79L1895.01 221.10L1835.11 185.42L1775.20 149.74L1715.30 114.07L1655.39 78.39L1654.21 80.37L1714.13 116.03L1774.04 151.69L1833.96 187.35L1893.88 223.01L1953.80 258.66L2013.73 294.29ZM2004.20 292.32L1946.08 257.10L1887.94 221.91L1829.81 186.72L1771.67 151.53L1713.53 116.35L1655.40 81.16L1654.20 83.13L1712.35 118.30L1770.50 153.47L1828.65 188.64L1886.80 223.81L1944.95 258.97L2003.11 294.11ZM1993.60 292.14L1937.24 257.42L1880.88 222.72L1824.51 188.02L1768.14 153.32L1711.77 118.62L1655.40 83.93L1654.20 85.88L1710.58 120.56L1766.96 155.24L1823.34 189.92L1879.72 224.60L1936.10 259.28L1992.49 293.93ZM1982.99 291.97L1928.41 257.74L1873.81 223.53L1819.21 189.32L1764.61 155.11L1710.01 120.90L1655.41 86.70L1654.19 88.64L1708.80 122.83L1763.41 157.02L1818.02 191.21L1872.64 225.40L1927.25 259.59L1981.88 293.75ZM1972.39 291.80L1919.57 258.06L1866.74 224.34L1813.91 190.62L1761.08 156.90L1708.25 123.18L1655.41 89.47L1654.19 91.39L1707.03 125.09L1759.87 158.80L1812.71 192.50L1865.55 226.20L1918.40 259.89L1971.26 293.57ZM1961.78 291.63L1910.73 258.38L1859.67 225.15L1808.61 191.92L1757.55 158.69L1706.48 125.46L1655.42 92.24L1654.18 94.14L1705.25 127.36L1756.33 160.57L1807.40 193.78L1858.47 226.99L1909.55 260.20L1960.64 293.39ZM1951.18 291.46L1901.90 258.70L1852.61 225.96L1803.31 193.22L1754.02 160.48L1704.72 127.74L1655.43 95.01L1654.17 96.90L1703.48 129.62L1752.78 162.34L1802.09 195.07L1851.39 227.79L1900.70 260.51L1950.02 293.21ZM1940.58 291.29L1893.06 259.02L1845.54 226.77L1798.01 194.52L1750.49 162.27L1702.96 130.03L1655.43 97.78L1654.17 99.65L1701.70 131.88L1749.24 164.12L1796.77 196.35L1844.31 228.58L1891.85 260.81L1939.40 293.03ZM1929.97 291.12L1884.23 259.34L1838.47 227.58L1792.72 195.82L1746.96 164.07L1701.20 132.31L1655.44 100.55L1654.16 102.40L1699.93 134.15L1745.69 165.89L1791.46 197.63L1837.23 229.38L1883.00 261.12L1928.78 292.84ZM1919.37 290.95L1875.39 259.66L1831.41 228.39L1787.42 197.13L1743.43 165.86L1699.44 134.59L1655.45 103.33L1654.15 105.15L1698.15 136.41L1742.15 167.66L1786.14 198.92L1830.14 230.17L1874.14 261.42L1918.15 292.66ZM1908.77 290.78L1866.56 259.99L1824.34 229.21L1782.12 198.43L1739.90 167.65L1697.68 136.88L1655.46 106.10L1654.14 107.90L1696.37 138.67L1738.60 169.43L1780.83 200.20L1823.06 230.96L1865.29 261.73L1907.53 292.48ZM1898.17 290.61L1857.73 260.31L1817.27 230.02L1776.82 199.73L1736.37 169.45L1695.92 139.16L1655.46 108.87L1654.14 110.65L1694.60 140.93L1735.06 171.20L1775.52 201.48L1815.98 231.76L1856.44 262.03L1896.91 292.29ZM1887.57 290.44L1848.89 260.63L1810.21 230.84L1771.53 201.04L1732.84 171.24L1694.16 141.45L1655.47 111.65L1654.13 113.40L1692.82 143.18L1731.51 172.97L1770.20 202.76L1808.89 232.55L1847.58 262.33L1886.29 292.11ZM1876.97 290.28L1840.06 260.96L1803.15 231.65L1766.23 202.34L1729.31 173.04L1692.40 143.73L1655.48 114.43L1654.12 116.14L1691.04 145.44L1727.96 174.74L1764.88 204.04L1801.81 233.34L1838.73 262.63L1875.66 291.92ZM1866.37 290.11L1831.23 261.29L1796.08 232.47L1760.93 203.65L1725.79 174.84L1690.64 146.02L1655.49 117.21L1654.11 118.89L1689.26 147.70L1724.42 176.51L1759.57 205.32L1794.72 234.13L1829.88 262.93L1865.04 291.73ZM1855.77 289.94L1822.40 261.61L1789.02 233.29L1755.64 204.96L1722.26 176.64L1688.88 148.31L1655.50 119.99L1654.10 121.63L1687.49 149.95L1720.87 178.27L1754.25 206.59L1787.64 234.91L1821.02 263.23L1854.41 291.55ZM1845.17 289.78L1813.56 261.94L1781.95 234.11L1750.34 206.27L1718.73 178.44L1687.12 150.60L1655.51 122.77L1654.09 124.37L1685.71 152.21L1717.32 180.04L1748.94 207.87L1780.55 235.70L1812.17 263.53L1843.78 291.36ZM1834.58 289.62L1804.73 262.27L1774.89 234.93L1745.05 207.58L1715.20 180.24L1685.36 152.90L1655.52 125.55L1654.08 127.11L1683.93 154.46L1713.77 181.80L1743.62 209.14L1773.46 236.48L1803.31 263.83L1833.16 291.17ZM1823.98 289.46L1795.90 262.60L1767.83 235.75L1739.75 208.90L1711.68 182.04L1683.60 155.19L1655.52 128.34L1654.08 129.85L1682.15 156.71L1710.23 183.56L1738.30 210.41L1766.38 237.27L1794.45 264.12L1822.53 290.97ZM1813.39 289.30L1787.08 262.94L1760.77 236.58L1734.46 210.21L1708.15 183.85L1681.84 157.49L1655.53 131.13L1654.07 132.59L1680.37 158.95L1706.68 185.32L1732.98 211.68L1759.29 238.05L1785.60 264.41L1811.90 290.78ZM1802.79 289.14L1778.25 263.27L1753.70 237.40L1729.16 211.53L1704.62 185.66L1680.08 159.79L1655.54 133.92L1654.06 135.32L1678.59 161.20L1703.13 187.07L1727.67 212.95L1752.20 238.83L1776.74 264.70L1801.27 290.58ZM1792.20 288.98L1769.42 263.61L1746.64 238.23L1723.87 212.85L1701.10 187.47L1678.32 162.09L1655.55 136.71L1654.05 138.05L1676.82 163.44L1699.58 188.83L1722.35 214.21L1745.12 239.60L1767.88 264.99L1790.64 290.39ZM1781.61 288.83L1760.59 263.95L1739.58 239.07L1718.57 214.18L1697.57 189.29L1676.56 164.40L1655.56 139.50L1654.04 140.78L1675.04 165.68L1696.04 190.58L1717.03 215.48L1738.03 240.38L1759.02 265.28L1780.00 290.19ZM1771.02 288.68L1751.76 264.30L1732.52 239.90L1713.28 215.50L1694.04 191.10L1674.80 166.70L1655.56 142.30L1654.04 143.51L1673.27 167.91L1692.49 192.32L1711.72 216.73L1730.94 241.14L1750.16 265.56L1769.37 289.98ZM1760.43 288.54L1742.93 264.65L1725.46 240.74L1707.98 216.83L1690.51 192.93L1673.04 169.02L1655.57 145.11L1654.03 146.23L1671.49 170.15L1688.95 194.07L1706.40 217.99L1723.86 241.91L1741.31 265.84L1758.74 289.78ZM1749.84 288.40L1734.11 265.00L1718.39 241.59L1702.68 218.17L1686.98 194.75L1671.27 171.33L1655.57 147.91L1654.03 148.94L1669.72 172.37L1685.40 195.81L1701.09 219.24L1716.77 242.67L1732.45 266.11L1748.10 289.56ZM1739.26 288.26L1725.28 265.36L1711.33 242.43L1697.38 219.51L1683.44 196.58L1669.50 173.65L1655.56 150.73L1654.04 151.65L1667.95 174.60L1681.86 197.54L1695.78 220.48L1709.69 243.43L1723.59 266.38L1737.46 289.35ZM1728.67 288.13L1716.45 265.72L1704.26 243.29L1692.08 220.85L1679.90 198.42L1667.73 175.98L1655.56 153.54L1654.04 154.36L1666.19 176.82L1678.33 199.27L1690.47 221.73L1702.60 244.18L1714.73 266.64L1726.82 289.13ZM1718.08 288.00L1707.61 266.08L1697.19 244.14L1686.77 222.20L1676.36 200.26L1665.95 178.31L1655.55 156.36L1654.05 157.07L1664.43 179.03L1674.80 201.00L1685.16 222.96L1695.53 244.93L1705.88 266.90L1716.19 288.90ZM1707.50 287.88L1698.78 266.46L1690.11 245.01L1681.46 223.55L1672.81 202.10L1664.17 180.64L1655.53 159.18L1654.07 159.77L1662.67 181.24L1671.27 202.72L1679.86 224.20L1688.45 245.68L1697.03 267.16L1705.55 288.67ZM1696.91 287.77L1689.94 266.83L1683.03 245.87L1676.14 224.91L1669.26 203.94L1662.38 182.98L1655.50 162.01L1654.10 162.47L1660.93 183.45L1667.75 204.44L1674.57 225.42L1681.38 246.41L1688.18 267.41L1694.91 288.42ZM1686.32 287.67L1681.09 267.22L1675.95 246.75L1670.82 226.27L1665.69 205.79L1660.58 185.31L1655.46 164.84L1654.14 165.16L1659.19 185.66L1664.24 206.15L1669.28 226.65L1674.32 247.15L1679.34 267.65L1684.28 288.17Z" fill="#ff1010"/>
<path d="M677.7 48.5L589.7 94.0L637.7 112.0L665.7 130.0L675.7 165.0ZM677.7 48.5L765.7 94.0L717.7 112.0L689.7 130.0L679.7 165.0ZM1651.8 48.5L1563.8 94.0L1611.8 112.0L1639.8 130.0L1649.8 165.0ZM1651.8 48.5L1739.8 94.0L1691.8 112.0L1663.8 130.0L1653.8 165.0Z" fill="#ff1010" fill-opacity="0.6"/>
<line x1="677.7" y1="38.2" x2="677.7" y2="408.5" stroke="#0676d8" stroke-width="3.8"/>
<line x1="1651.8" y1="38.2" x2="1651.8" y2="408.5" stroke="#0676d8" stroke-width="3.8"/>
<path d="M191 296.8H306V293H489V289.5H669V286H1660V289.5H1878V293H2048V296.5H2141" stroke="#0676d8" stroke-width="4" fill="none"/>
<path d="M188.1 385.0V1077.8M330.3 385.0V1077.8M472.5 385.0V1077.8M614.7 385.0V1077.8M756.9 385.0V1077.8M899.1 385.0V1077.8M1041.3 385.0V1077.8M1183.5 385.0V1077.8M1325.7 385.0V1077.8M1467.9 385.0V1077.8M1610.1 385.0V1077.8M1752.3 385.0V1077.8M1894.5 385.0V1077.8M2036.7 385.0V1077.8M180.0 483.9H2149.6M180.0 583.0H2149.6M180.0 682.1H2149.6M180.0 781.2H2149.6M180.0 880.3H2149.6M180.0 979.4H2149.6" stroke="#d2d2ff" stroke-width="3" stroke-dasharray="3.5 5.3" fill="none"/>
<g fill="#fff"><rect x="203" y="396" width="56" height="328"/><rect x="336" y="668" width="62" height="318"/><rect x="610" y="789" width="61" height="133"/><rect x="1081" y="386" width="64" height="266"/><rect x="1668" y="789" width="61" height="133"/><rect x="1960" y="682" width="61" height="312"/><rect x="2066" y="394" width="59" height="330"/><rect x="1346" y="749" width="232" height="51"/><rect x="1346" y="814" width="248" height="52"/><rect x="1346" y="879" width="260" height="52"/><rect x="1346" y="944" width="268" height="52"/><rect x="1346" y="1009" width="588" height="57"/></g>
<path d="M180.0 383.5V1079.3M178.5 1077.8H2150.6" stroke="#636363" stroke-width="4.0" fill="none"/>
<path d="M178.5 384.5H2150.6" stroke="#636363" stroke-width="4.6" fill="none"/>
<path d="M2149.6 385.0V1077.8" stroke="#636363" stroke-width="2.4" fill="none"/>
<path d="M166.0 384.8H180.0M174.0 434.4H180.0M166.0 483.9H180.0M174.0 533.5H180.0M166.0 583.0H180.0M174.0 632.6H180.0M166.0 682.1H180.0M174.0 731.6H180.0M166.0 781.2H180.0M174.0 830.8H180.0M166.0 880.3H180.0M174.0 929.9H180.0M166.0 979.4H180.0M174.0 1029.0H180.0M166.0 1078.5H180.0M188.1 1077.8V1091.8M259.2 1077.8V1083.8M330.3 1077.8V1091.8M401.4 1077.8V1083.8M472.5 1077.8V1091.8M543.6 1077.8V1083.8M614.7 1077.8V1091.8M685.8 1077.8V1083.8M756.9 1077.8V1091.8M828.0 1077.8V1083.8M899.1 1077.8V1091.8M970.2 1077.8V1083.8M1041.3 1077.8V1091.8M1112.4 1077.8V1083.8M1183.5 1077.8V1091.8M1254.6 1077.8V1083.8M1325.7 1077.8V1091.8M1396.8 1077.8V1083.8M1467.9 1077.8V1091.8M1539.0 1077.8V1083.8M1610.1 1077.8V1091.8M1681.2 1077.8V1083.8M1752.3 1077.8V1091.8M1823.4 1077.8V1083.8M1894.5 1077.8V1091.8M1965.6 1077.8V1083.8M2036.7 1077.8V1091.8M2107.8 1077.8V1083.8" stroke="#636363" stroke-width="3.2" fill="none"/>
<text x="157" y="400.0" font-size="54" text-anchor="end" style="stroke-width:0.4px">−6</text>
<text x="157" y="499.1" font-size="54" text-anchor="end" style="stroke-width:0.4px">−4</text>
<text x="157" y="598.2" font-size="54" text-anchor="end" style="stroke-width:0.4px">−2</text>
<text x="157" y="697.3" font-size="54" text-anchor="end" style="stroke-width:0.4px">0</text>
<text x="157" y="796.4" font-size="54" text-anchor="end" style="stroke-width:0.4px">2</text>
<text x="157" y="895.5" font-size="54" text-anchor="end" style="stroke-width:0.4px">4</text>
<text x="157" y="994.6" font-size="54" text-anchor="end" style="stroke-width:0.4px">6</text>
<text x="157" y="1093.7" font-size="54" text-anchor="end" style="stroke-width:0.4px">8</text>
<text x="188.1" y="1144.8" font-size="54" text-anchor="middle" style="stroke-width:0.6px">0</text>
<text x="330.3" y="1144.8" font-size="54" text-anchor="middle" style="stroke-width:0.6px">100</text>
<text x="472.5" y="1144.8" font-size="54" text-anchor="middle" style="stroke-width:0.6px">200</text>
<text x="614.7" y="1144.8" font-size="54" text-anchor="middle" style="stroke-width:0.6px">300</text>
<text x="756.9" y="1144.8" font-size="54" text-anchor="middle" style="stroke-width:0.6px">400</text>
<text x="899.1" y="1144.8" font-size="54" text-anchor="middle" style="stroke-width:0.6px">500</text>
<text x="1041.3" y="1144.8" font-size="54" text-anchor="middle" style="stroke-width:0.6px">600</text>
<text x="1183.5" y="1144.8" font-size="54" text-anchor="middle" style="stroke-width:0.6px">700</text>
<text x="1325.7" y="1144.8" font-size="54" text-anchor="middle" style="stroke-width:0.6px">800</text>
<text x="1467.9" y="1144.8" font-size="54" text-anchor="middle" style="stroke-width:0.6px">900</text>
<text x="1610.1" y="1144.8" font-size="54" text-anchor="middle" style="stroke-width:0.6px">1000</text>
<text x="1752.3" y="1144.8" font-size="54" text-anchor="middle" style="stroke-width:0.6px">1100</text>
<text x="1894.5" y="1144.8" font-size="54" text-anchor="middle" style="stroke-width:0.6px">1200</text>
<text x="2036.7" y="1144.8" font-size="54" text-anchor="middle" style="stroke-width:0.6px">1300</text>
<text x="1200.5" y="1194" font-size="53.4" text-anchor="middle" style="stroke-width:1.0px">Longitudinal position of girder/m</text>
<text transform="translate(75 729) rotate(-90)" font-size="53.8" text-anchor="middle">Bending moment/(10<tspan font-size="32" dy="-20">4</tspan><tspan dy="20">kN·m)</tspan></text>
<text transform="translate(246.2 720.5) rotate(-90) scale(0.989 1)" font-size="55" style="stroke-width:1.1px">Transition pier</text>
<text transform="translate(385.3 979.5) rotate(-90) scale(0.981 1)" font-size="55" style="stroke-width:1.1px">Auxiliary pier</text>
<text transform="translate(655.4 917.3) rotate(-90) scale(0.957 1)" font-size="55" style="stroke-width:1.1px">Pylon</text>
<text transform="translate(1133.3 648.1) rotate(-90) scale(0.996 1)" font-size="55" style="stroke-width:1.1px">Span center</text>
<text transform="translate(1712.8 916.7) rotate(-90) scale(0.952 1)" font-size="55" style="stroke-width:1.1px">Pylon</text>
<text transform="translate(2004.7 988.3) rotate(-90) scale(0.966 1)" font-size="55" style="stroke-width:1.1px">Auxiliary pier</text>
<text transform="translate(2108.4 720.5) rotate(-90) scale(0.986 1)" font-size="55" style="stroke-width:1.1px">Transition pier</text>
<path d="M187.3 680.4L194.6 721.2L200.4 783.8L207.0 829.7L217.2 790.4L225.2 808.6L238.3 760.5L247.0 785.3L259.4 741.6L269.6 764.9L280.5 721.2L287.8 695.0L295.1 660.0L301.0 584.9L304.0 520.0L308.8 588.7L315.6 660.6L323.4 609.0L334.0 647.0L345.7 605.0L355.4 641.0L367.0 601.0L376.8 641.0L387.5 601.0L398.0 645.0L409.7 609.4L420.7 655.8L430.4 627.5L441.4 667.4L451.8 637.8L462.1 675.2L473.8 640.4L484.1 681.7L494.5 648.2L506.1 688.2L515.9 652.1L527.5 698.2L537.9 653.4L548.9 691.7L558.6 647.6L568.3 687.8L579.9 642.4L589.0 690.0L601.3 677.7L606.2 700.3L614.3 713.3L624.0 705.2L632.0 727.8L643.4 713.3L646.6 737.5L651.5 766.7L664.4 784.5L672.5 732.7L675.8 753.7L682.2 774.8L688.0 780.0L696.8 765.0L703.3 737.5L704.9 705.2L714.6 729.4L729.2 692.2L738.9 723.0L748.6 698.7L759.9 724.6L772.8 706.8L781.0 727.8L791.7 700.8L802.0 726.3L813.0 702.1L824.0 727.6L834.4 702.1L844.7 728.9L855.7 704.7L866.1 730.2L877.1 704.7L887.4 730.9L898.4 704.7L908.8 732.1L919.8 703.4L930.2 732.8L941.2 704.7L951.5 733.4L962.5 704.7L973.5 734.1L984.2 709.9L994.6 736.7L1005.0 712.5L1015.3 740.6L1025.7 715.1L1037.3 738.0L1047.7 712.0L1058.0 721.9L1069.0 688.0L1080.0 727.1L1091.0 689.3L1100.7 727.1L1111.7 690.6L1122.1 728.4L1133.1 688.0L1143.5 724.5L1155.1 682.8L1164.2 718.0L1174.2 684.1L1184.6 725.8L1195.6 689.3L1206.0 731.0L1217.0 691.9L1227.3 732.3L1237.7 691.9L1249.3 728.4L1259.7 726.0L1270.0 753.5L1280.4 722.1L1290.7 747.0L1302.4 717.0L1312.8 739.3L1323.8 713.1L1334.1 734.1L1345.8 710.5L1355.2 732.8L1366.2 702.7L1376.5 731.5L1387.5 702.7L1397.9 731.5L1408.9 704.0L1419.3 730.2L1430.3 704.0L1440.6 729.6L1451.6 700.1L1462.6 728.9L1473.0 698.8L1484.0 727.6L1494.3 700.1L1505.3 727.6L1516.3 700.1L1526.0 726.3L1537.1 697.5L1546.5 722.8L1558.6 693.0L1569.1 717.9L1579.6 689.8L1590.2 722.0L1600.7 693.9L1609.6 731.1L1617.7 723.0L1622.5 711.7L1624.1 734.3L1630.6 757.0L1638.7 781.2L1650.0 761.8L1653.3 769.9L1658.1 773.1L1666.2 781.2L1672.7 776.4L1679.2 748.9L1682.4 726.2L1693.7 731.1L1701.8 718.1L1706.7 693.9L1716.4 713.3L1722.8 698.7L1729.3 685.8L1739.0 701.9L1748.8 645.4L1758.5 691.1L1770.1 650.6L1780.5 695.0L1791.5 657.1L1801.2 696.3L1812.8 655.1L1823.2 684.3L1834.2 651.2L1844.6 681.7L1855.6 644.7L1865.3 675.2L1876.9 638.3L1886.0 668.7L1898.3 630.5L1908.0 657.1L1920.3 609.2L1929.4 645.4L1941.0 600.2L1951.4 637.6L1961.7 597.6L1973.4 636.3L1983.1 602.7L1994.1 640.2L2005.1 602.7L2020.0 585.9L2026.5 497.0L2030.0 560.0L2033.0 620.0L2038.6 675.8L2046.0 709.3L2059.0 757.6L2069.3 739.0L2081.4 780.0L2090.7 757.6L2102.8 804.1L2112.0 785.5L2121.4 824.6L2131.6 768.8L2139.0 681.4" stroke="#ff1a1a" stroke-width="5.0" fill="none" stroke-linejoin="round" stroke-dasharray="26.7 28"/>
<path d="M187.3 681.6L194.6 722.4L200.4 785.0L207.0 830.9L217.2 791.6L225.2 809.8L238.3 761.7L247.0 786.5L259.4 742.8L269.6 766.1L280.5 722.4L287.8 696.2L295.1 661.2L301.0 586.1L304.0 521.2L308.8 589.9L315.6 661.8L323.4 615.2L334.0 648.2L345.7 611.2L355.4 642.2L367.0 607.2L376.8 642.2L387.5 607.2L398.0 646.2L409.7 615.6L420.7 657.0L430.4 633.7L441.4 668.6L451.8 644.0L462.1 676.4L473.8 646.6L484.1 682.9L494.5 654.4L506.1 689.4L515.9 658.3L527.5 689.4L537.9 657.6L548.9 682.9L558.6 651.8L568.3 679.0L579.9 646.6L589.0 677.7L601.3 653.0L613.5 688.6L623.2 664.3L635.3 703.1L644.2 683.7L648.3 714.5L661.2 748.4L675.0 687.0L677.4 717.7L687.1 743.6L701.7 690.2L706.5 670.8L716.2 693.4L727.5 653.0L738.0 683.7L749.4 651.4L759.9 683.7L770.4 654.6L781.7 688.6L791.7 662.0L802.0 690.5L813.0 663.3L824.0 691.8L834.4 663.3L844.7 693.1L855.7 665.9L866.1 694.4L877.1 665.9L887.4 695.1L898.4 665.9L908.8 696.3L919.8 664.6L930.2 697.0L941.2 665.9L951.5 697.6L962.5 665.9L973.5 698.3L984.2 671.1L994.6 700.9L1005.0 673.7L1015.3 704.8L1025.7 676.3L1037.3 711.2L1047.7 684.0L1058.0 715.1L1069.0 689.2L1080.0 720.3L1091.0 690.5L1100.7 720.3L1111.7 691.8L1122.1 721.6L1133.1 689.2L1143.5 717.7L1155.1 684.0L1164.2 711.2L1174.2 685.3L1184.6 719.0L1195.6 690.5L1206.0 724.2L1217.0 693.1L1227.3 725.5L1237.7 693.1L1249.3 721.6L1259.7 689.2L1270.0 717.7L1280.4 685.3L1290.7 711.2L1302.4 680.2L1312.8 703.5L1323.8 676.3L1334.1 698.3L1345.8 673.7L1355.2 697.0L1366.2 665.9L1376.5 695.7L1387.5 665.9L1397.9 695.7L1408.9 667.2L1419.3 694.4L1430.3 667.2L1440.6 693.8L1451.6 663.3L1462.6 693.1L1473.0 662.0L1484.0 691.8L1494.3 663.3L1505.3 691.8L1516.3 663.3L1526.0 690.5L1537.1 660.7L1546.5 687.0L1558.6 656.2L1569.1 682.1L1579.6 653.0L1590.2 683.7L1600.7 654.6L1612.0 693.4L1621.7 669.2L1627.4 698.3L1640.3 743.6L1653.3 687.0L1655.7 717.7L1667.0 748.4L1680.8 701.5L1684.8 682.1L1693.7 699.9L1706.7 664.3L1715.6 687.0L1727.7 651.4L1736.5 677.7L1748.8 646.6L1758.5 680.3L1770.1 651.8L1780.5 684.2L1791.5 658.3L1801.2 685.5L1812.8 658.3L1823.2 685.5L1834.2 654.4L1844.6 682.9L1855.6 647.9L1865.3 676.4L1876.9 641.5L1886.0 669.9L1898.3 633.7L1908.0 658.3L1920.3 619.4L1929.4 646.6L1941.0 610.4L1951.4 638.8L1961.7 607.8L1973.4 637.5L1983.1 612.9L1994.1 641.4L2005.1 612.9L2013.5 653.0L2020.0 587.1L2026.5 498.2L2030.0 561.2L2033.0 621.2L2038.6 677.0L2046.0 710.5L2059.0 758.8L2069.3 740.2L2081.4 781.2L2090.7 758.8L2102.8 805.3L2112.0 786.7L2121.4 825.8L2131.6 770.0L2139.0 682.6" stroke="#2a2aff" stroke-width="5.0" fill="none" stroke-linejoin="round" stroke-dasharray="32 15 7.5 13.5"/>
<path d="M187.3 680.4L194.6 721.2L200.4 783.8L207.0 829.7L217.2 790.4L225.2 808.6L238.3 760.5L247.0 785.3L259.4 741.6L269.6 764.9L280.5 721.2L287.8 695.0L295.1 660.0L301.0 584.9L304.0 520.0L308.8 588.7L315.6 660.6L323.4 614.0L334.0 647.0L345.7 610.0L355.4 641.0L367.0 606.0L376.8 641.0L387.5 606.0L398.0 645.0L409.7 614.4L420.7 655.8L430.4 632.5L441.4 667.4L451.8 642.8L462.1 675.2L473.8 645.4L484.1 681.7L494.5 653.2L506.1 688.2L515.9 657.1L527.5 688.2L537.9 656.4L548.9 681.7L558.6 650.6L568.3 677.8L579.9 645.4L589.0 676.5L601.3 651.8L613.5 687.4L623.2 663.1L635.3 701.9L644.2 682.5L648.3 713.3L661.2 747.2L675.0 685.8L677.4 716.5L687.1 742.4L701.7 689.0L706.5 669.6L716.2 692.2L727.5 651.8L738.0 682.5L749.4 650.2L759.9 682.5L770.4 653.4L781.7 687.4L791.7 660.8L802.0 689.3L813.0 662.1L824.0 690.6L834.4 662.1L844.7 691.9L855.7 664.7L866.1 693.2L877.1 664.7L887.4 693.9L898.4 664.7L908.8 695.1L919.8 663.4L930.2 695.8L941.2 664.7L951.5 696.4L962.5 664.7L973.5 697.1L984.2 669.9L994.6 699.7L1005.0 672.5L1015.3 703.6L1025.7 675.1L1037.3 710.0L1047.7 682.8L1058.0 713.9L1069.0 688.0L1080.0 719.1L1091.0 689.3L1100.7 719.1L1111.7 690.6L1122.1 720.4L1133.1 688.0L1143.5 716.5L1155.1 682.8L1164.2 710.0L1174.2 684.1L1184.6 717.8L1195.6 689.3L1206.0 723.0L1217.0 691.9L1227.3 724.3L1237.7 691.9L1249.3 720.4L1259.7 688.0L1270.0 716.5L1280.4 684.1L1290.7 710.0L1302.4 679.0L1312.8 702.3L1323.8 675.1L1334.1 697.1L1345.8 672.5L1355.2 695.8L1366.2 664.7L1376.5 694.5L1387.5 664.7L1397.9 694.5L1408.9 666.0L1419.3 693.2L1430.3 666.0L1440.6 692.6L1451.6 662.1L1462.6 691.9L1473.0 660.8L1484.0 690.6L1494.3 662.1L1505.3 690.6L1516.3 662.1L1526.0 689.3L1537.1 659.5L1546.5 685.8L1558.6 655.0L1569.1 680.9L1579.6 651.8L1590.2 682.5L1600.7 653.4L1612.0 692.2L1621.7 668.0L1627.4 697.1L1640.3 742.4L1653.3 685.8L1655.7 716.5L1667.0 747.2L1680.8 700.3L1684.8 680.9L1693.7 698.7L1706.7 663.1L1715.6 685.8L1727.7 650.2L1736.5 676.5L1748.8 645.4L1758.5 679.1L1770.1 650.6L1780.5 683.0L1791.5 657.1L1801.2 684.3L1812.8 657.1L1823.2 684.3L1834.2 653.2L1844.6 681.7L1855.6 646.7L1865.3 675.2L1876.9 640.3L1886.0 668.7L1898.3 632.5L1908.0 657.1L1920.3 618.2L1929.4 645.4L1941.0 609.2L1951.4 637.6L1961.7 606.6L1973.4 636.3L1983.1 611.7L1994.1 640.2L2005.1 611.7L2013.5 651.8L2020.0 585.9L2026.5 497.0L2030.0 560.0L2033.0 620.0L2038.6 675.8L2046.0 709.3L2059.0 757.6L2069.3 739.0L2081.4 780.0L2090.7 757.6L2102.8 804.1L2112.0 785.5L2121.4 824.6L2131.6 768.8L2139.0 681.4" stroke="#0c0c0c" stroke-width="5.0" fill="none" stroke-linejoin="round"/>
<path d="M187.3 680.4L194.6 721.2L200.4 780.0L207.0 821.7L217.2 787.0L225.2 800.0L238.3 757.6L247.0 775.0L259.4 725.6L266.0 742.0L273.2 731.4L279.0 708.0L283.4 680.4L291.4 651.0L295.2 616.0L299.0 589.0L301.0 550.0L304.0 466.0L306.0 540.0L307.8 593.3L319.4 599.8L323.3 566.1L333.0 584.0L345.3 557.1L351.8 576.5L366.0 548.0L377.7 571.3L389.3 545.4L397.1 566.1L407.4 536.4L415.2 558.4L429.4 535.1L440.0 556.0L452.8 532.5L464.4 558.4L473.5 532.5L481.2 551.9L494.2 522.1L504.2 545.0L515.9 512.6L521.1 530.7L536.6 506.1L550.8 515.2L558.6 482.8L570.3 503.6L580.6 468.6L585.8 486.7L601.3 457.0L611.7 482.8L620.7 458.3L632.4 481.6L644.0 458.3L658.3 501.0L667.3 490.6L673.8 451.8L676.4 425.9L679.0 463.4L685.5 482.3L697.2 468.0L702.4 447.3L707.5 411.1L715.3 434.4L727.0 400.7L739.9 430.5L747.7 411.1L756.7 435.7L769.7 417.5L786.5 449.9L793.0 431.8L803.3 468.0L812.4 449.9L821.5 481.0L834.4 471.9L844.8 499.1L856.4 481.0L868.0 519.8L876.2 502.7L885.9 535.0L898.8 523.7L911.8 564.1L919.9 548.0L929.6 585.2L939.3 573.9L949.0 604.6L963.6 599.7L973.3 638.6L983.0 622.4L994.3 658.0L1007.2 649.9L1015.3 690.0L1025.7 668.0L1037.3 716.0L1047.7 682.8L1058.0 719.9L1069.0 688.0L1080.0 725.1L1091.0 689.3L1100.7 725.1L1111.7 690.6L1122.1 726.4L1133.1 688.0L1143.5 722.5L1155.1 682.8L1164.2 716.0L1174.2 684.1L1184.6 723.8L1195.6 689.3L1206.0 729.0L1217.0 691.9L1227.3 730.3L1237.7 691.9L1249.3 726.4L1259.7 688.0L1270.0 722.5L1280.4 684.1L1290.7 716.0L1302.4 679.0L1312.8 690.0L1324.3 644.5L1335.6 657.4L1346.0 628.0L1356.0 636.0L1368.0 597.5L1377.7 612.1L1387.4 573.3L1393.9 586.2L1410.0 545.8L1421.4 558.7L1431.1 524.7L1437.5 542.5L1450.5 502.1L1460.2 519.9L1473.1 489.1L1486.1 497.2L1495.5 463.5L1503.0 483.6L1515.9 447.3L1521.1 462.8L1537.9 430.5L1549.5 451.2L1558.6 422.7L1567.7 439.5L1580.6 405.9L1589.7 430.5L1601.3 399.4L1611.7 434.4L1622.0 418.8L1637.6 479.7L1647.9 470.6L1651.8 439.5L1654.4 426.6L1657.0 465.4L1660.9 486.2L1675.1 496.5L1685.5 462.8L1694.2 481.4L1705.9 451.7L1716.0 478.0L1726.6 463.3L1735.7 487.9L1748.6 465.9L1758.0 496.0L1770.6 484.0L1778.0 512.0L1790.0 503.4L1800.4 534.5L1812.0 522.8L1823.7 546.1L1835.3 524.1L1849.6 546.1L1856.0 525.4L1870.3 556.5L1876.8 533.2L1887.2 563.1L1896.0 541.7L1906.0 560.2L1920.2 535.9L1929.9 563.1L1940.6 538.8L1955.1 568.0L1961.0 548.5L1969.7 572.8L1983.3 553.4L1989.1 578.6L2004.7 560.2L2011.5 598.1L2018.3 577.7L2020.2 519.4L2026.6 456.0L2030.0 540.0L2035.0 610.0L2040.0 660.0L2047.9 672.0L2059.0 750.0L2070.2 720.4L2081.4 775.0L2090.7 753.9L2102.8 800.0L2111.1 783.7L2121.4 822.0L2131.6 768.8L2139.0 681.4" stroke="#0b958c" stroke-width="5.4" fill="none" stroke-linejoin="round" stroke-dasharray="25 13.5 8 14 8 13.6"/>
<path d="M187.3 680.4L194.6 725.0L200.4 790.0L207.0 833.4L216.4 804.2L226.6 821.7L238.3 794.0L248.5 802.8L259.4 775.0L269.6 790.0L282.0 765.0L292.0 722.6L297.0 660.0L302.4 542.0L307.0 600.0L314.7 683.9L323.4 652.0L330.0 664.0L347.7 650.0L357.0 663.0L367.0 648.0L377.0 660.0L387.5 648.0L398.0 659.0L409.7 638.0L420.7 662.0L430.4 640.0L441.4 668.0L451.8 642.8L462.1 675.2L473.8 645.4L484.1 681.7L494.5 653.2L506.1 688.2L515.9 657.1L527.5 688.2L537.9 656.4L548.9 681.7L558.6 650.6L568.3 677.8L579.9 645.4L589.0 676.5L601.3 651.8L613.5 687.4L623.2 663.1L635.3 701.9L644.2 682.5L648.3 713.3L661.2 747.2L675.0 685.8L677.4 716.5L687.1 742.4L701.7 689.0L706.5 669.6L716.2 692.2L727.5 651.8L738.0 682.5L749.4 650.2L759.9 682.5L770.4 653.4L781.7 687.4L791.7 660.8L802.0 689.3L813.0 662.1L824.0 690.6L834.4 662.1L844.7 691.9L855.7 664.7L866.1 693.2L877.1 664.7L887.4 693.9L898.4 664.7L908.8 695.1L919.8 663.4L930.2 695.8L941.2 664.7L951.5 696.4L962.5 664.7L973.5 697.1L984.2 669.9L994.6 699.7L1005.0 672.5L1015.3 703.6L1025.7 675.1L1037.3 710.0L1047.7 668.0L1058.0 680.0L1069.0 665.0L1080.0 683.0L1091.0 660.0L1100.7 690.0L1111.7 658.0L1122.1 680.0L1133.1 652.0L1143.5 675.0L1155.1 643.0L1164.2 672.0L1174.2 646.6L1184.6 675.0L1195.6 649.2L1206.0 680.3L1217.0 655.7L1227.3 685.4L1237.7 664.7L1249.3 691.9L1259.7 668.6L1270.0 695.8L1280.4 666.0L1290.7 705.0L1302.4 679.0L1312.8 702.3L1323.8 675.1L1334.1 697.1L1345.8 672.5L1355.2 695.8L1366.2 664.7L1376.5 694.5L1387.5 664.7L1397.9 694.5L1408.9 666.0L1419.3 693.2L1430.3 666.0L1440.6 692.6L1451.6 662.1L1462.6 691.9L1473.0 660.8L1484.0 690.6L1494.3 662.1L1505.3 690.6L1516.3 662.1L1526.0 689.3L1537.1 659.5L1546.5 685.8L1558.6 655.0L1569.1 680.9L1579.6 651.8L1590.2 682.5L1600.7 653.4L1612.0 692.2L1621.7 668.0L1627.4 697.1L1640.3 742.4L1653.3 685.8L1655.7 716.5L1667.0 747.2L1680.8 700.3L1684.8 680.9L1693.7 698.7L1706.7 663.1L1715.6 685.8L1727.7 650.2L1736.5 676.5L1748.8 645.4L1758.5 679.1L1770.1 650.6L1780.5 683.0L1791.5 657.1L1801.2 684.3L1812.8 657.1L1823.2 684.3L1834.2 653.2L1844.6 681.7L1855.6 646.7L1865.3 675.2L1876.9 641.0L1886.0 672.6L1898.3 645.0L1908.0 663.6L1920.3 640.0L1929.4 661.0L1941.0 636.0L1951.4 655.7L1961.7 644.1L1973.4 663.5L1983.1 648.0L1992.0 668.7L2001.0 654.4L2008.3 672.6L2013.5 679.0L2020.0 620.0L2026.6 550.0L2031.0 620.0L2038.6 718.6L2048.0 750.2L2057.2 783.7L2066.0 780.0L2074.0 794.8L2081.4 804.1L2090.0 798.0L2098.0 817.1L2108.0 815.0L2116.7 832.0L2121.4 830.0L2131.6 770.0L2139.0 681.4" stroke="#ff1cff" stroke-width="5.0" fill="none" stroke-linejoin="round" stroke-dasharray="4.6 6.1"/>
<path d="M192.8 297.24V970.4M307.2 297.24V970.4M2026 297.24V970.4M2141 297.24V970.4" stroke="#0676d8" stroke-width="4.6" stroke-dasharray="27.3 15.76" fill="none"/>
<path d="M1166.7 283.8V974" stroke="#0676d8" stroke-width="4.6" stroke-dasharray="30 14" fill="none"/>
<path d="M677.7 423V969M1651.8 423V969" stroke="#0676d8" stroke-width="4.6" stroke-dasharray="28 15.08" fill="none"/>
<path d="M174 376H208M292 376H326M2008 376H2042M2125 376H2159" stroke="#0676d8" stroke-width="3.8" fill="none"/>
<path d="M651.7 380.5H703.7M1625.8 380.5H1677.8" stroke="#0676d8" stroke-width="4.5" fill="none"/>
<path d="M1217 774H1337.5" stroke="#ff1a1a" stroke-width="5.0" fill="none" stroke-dasharray="26.7 28"/>
<text x="1352" y="792" font-size="53.4" style="stroke-width:1.3px">Function I</text>
<path d="M1217 839.6H1337.5" stroke="#2a2aff" stroke-width="5.0" fill="none" stroke-dasharray="32 15 7.5 13.5"/>
<text x="1352" y="857.6" font-size="53.4" style="stroke-width:1.3px">Function II</text>
<path d="M1217 904.2H1337.5" stroke="#0c0c0c" stroke-width="5.0" fill="none"/>
<text x="1352" y="922.2" font-size="53.4" style="stroke-width:1.3px">Function III</text>
<path d="M1217 969.8H1337.5" stroke="#0b958c" stroke-width="5.4" fill="none" stroke-dasharray="25 13.5 8 14 8 13.6"/>
<text x="1352" y="987.8" font-size="53.4" style="stroke-width:1.3px">Function IV</text>
<path d="M1217 1035H1337.5" stroke="#ff1cff" stroke-width="5.0" fill="none" stroke-dasharray="4.6 6.1"/>
<text x="1352" y="1053" font-size="53.4" style="stroke-width:1.3px">reasonable completed state</text>
</svg></body></html>
